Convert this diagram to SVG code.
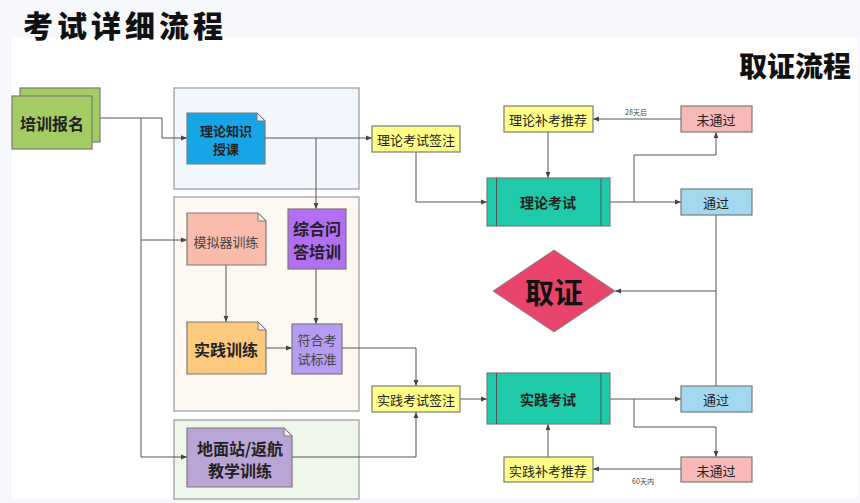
<svg xmlns="http://www.w3.org/2000/svg" width="860" height="503" viewBox="0 0 860 503">
<defs>
<marker id="ah" viewBox="0 0 10 10" refX="10" refY="5" markerWidth="6" markerHeight="6" orient="auto" markerUnits="userSpaceOnUse">
<path d="M0,1 L10,5 L0,9 Z" fill="#444"/>
</marker>
<style>
text{font-family:"Noto Sans CJK SC","Noto Sans",sans-serif;text-anchor:middle;dominant-baseline:central;fill:#222}
.b{font-weight:bold}
.box{stroke:#7a7a7a;stroke-width:1.2}
.panel{stroke:#9a9a9a;stroke-width:1.2}
.conn path{fill:none;stroke:#555;stroke-width:1}
.arr{marker-end:url(#ah)}
.fold{fill:#eeeeee;stroke:#7a7a7a;stroke-width:1}
</style>
</defs>
<rect x="0" y="0" width="860" height="503" fill="#f6f8fc"/>
<rect x="12" y="37" width="846" height="461" fill="#ffffff"/>
<text x="125" y="24" style="font-size:30px;font-weight:900;fill:#111;letter-spacing:4px">考试详细流程</text>
<text x="795" y="65" style="font-size:28px;font-weight:900;fill:#111">取证流程</text>

<g id="panel-theory"><rect x="174" y="88" width="185" height="101" fill="#f2f6fd" class="panel"/></g>
<g id="panel-practice"><rect x="174" y="197" width="185" height="214" fill="#fdf8f2" class="panel"/></g>
<g id="panel-ground"><rect x="174" y="420" width="185" height="79" fill="#eff6ec" class="panel"/></g>

<g class="conn">
<path class="arr" d="M100,118 H162 V138 H187"/>
<path class="arr" d="M141,118 V240 H187"/>
<path class="arr" d="M141,240 V457 H187"/>
<path class="arr" d="M265,138 H372"/>
<path class="arr" d="M316,138 V209"/>
<path class="arr" d="M226,265 V322"/>
<path class="arr" d="M316,269 V324"/>
<path class="arr" d="M266,348 H292"/>
<path class="arr" d="M342,348 H416 V386"/>
<path class="arr" d="M292,457 H416 V412"/>
<path class="arr" d="M416,152 V202 H487"/>
<path class="arr" d="M460,399 H487"/>
<path class="arr" d="M681,119 H593"/>
<path class="arr" d="M548,132 V178"/>
<path class="arr" d="M610,202 H681"/>
<path class="arr" d="M634,202 V155 H716 V132"/>
<path class="arr" d="M716,215 V291 H615"/>
<path d="M716,291 V386"/>
<path class="arr" d="M610,399 H681"/>
<path class="arr" d="M634,399 V427 H716 V457"/>
<path class="arr" d="M681,469 H593"/>
<path class="arr" d="M548,457 V424"/>
<text x="636" y="112" style="font-size:7px;fill:#444">28天后</text>
<text x="643" y="481" style="font-size:7px;fill:#444">60天内</text>
</g>

<g id="n-signup">
<rect x="20" y="88" width="80" height="54" fill="#a3cc62" class="box"/>
<rect x="12" y="96" width="80" height="53" fill="#a3cc62" class="box"/>
<text x="52" y="123" class="b" style="font-size:16px">培训报名</text>
</g>

<g id="n-theory-class">
<path d="M187,113 H257 L265,121 V164 H187 Z" fill="#16a5e6" class="box"/>
<path d="M257,113 L265,121 H257 Z" class="fold"/>
<text x="226" y="130" class="b" style="font-size:13px">理论知识</text>
<text x="226" y="148" class="b" style="font-size:13px">授课</text>
</g>

<g id="n-sim">
<path d="M187,213 H258 L266,221 V265 H187 Z" fill="#f9bcaa" class="box"/>
<path d="M258,213 L266,221 H258 Z" class="fold"/>
<text x="226" y="241" style="font-size:13px;fill:#444">模拟器训练</text>
</g>

<g id="n-qa">
<rect x="288" y="209" width="58" height="60" fill="#b26ff3" class="box"/>
<text x="317" y="228" class="b" style="font-size:16px">综合问</text>
<text x="317" y="251" class="b" style="font-size:16px">答培训</text>
</g>

<g id="n-practice">
<path d="M187,322 H258 L266,330 V374 H187 Z" fill="#fdc97c" class="box"/>
<path d="M258,322 L266,330 H258 Z" class="fold"/>
<text x="226" y="349" class="b" style="font-size:16px">实践训练</text>
</g>

<g id="n-standard">
<rect x="292" y="324" width="50" height="50" fill="#b79cf4" class="box"/>
<text x="317" y="339" style="font-size:13px;fill:#444">符合考</text>
<text x="317" y="358" style="font-size:13px;fill:#444">试标准</text>
</g>

<g id="n-ground">
<path d="M187,428 H284 L292,436 V487 H187 Z" fill="#bba5d6" class="box"/>
<path d="M284,428 L292,436 H284 Z" class="fold"/>
<text x="240" y="448" class="b" style="font-size:16px">地面站/返航</text>
<text x="240" y="470" class="b" style="font-size:16px">教学训练</text>
</g>

<g id="n-theory-sign">
<rect x="372" y="126" width="88" height="26" fill="#ffff88" class="box"/>
<text x="416" y="139" style="font-size:13px">理论考试签注</text>
</g>

<g id="n-practice-sign">
<rect x="372" y="386" width="88" height="26" fill="#ffff88" class="box"/>
<text x="416" y="399" style="font-size:13px">实践考试签注</text>
</g>

<g id="n-theory-exam">
<rect x="487" y="178" width="123" height="48" fill="#1ecaa9" class="box"/>
<path d="M496.5,178 V226 M601,178 V226" stroke="#555" stroke-width="1"/>
<text x="548" y="202" class="b" style="font-size:14px">理论考试</text>
</g>

<g id="n-practice-exam">
<rect x="487" y="373" width="123" height="51" fill="#1ecaa9" class="box"/>
<path d="M496.5,373 V424 M601,373 V424" stroke="#555" stroke-width="1"/>
<text x="548" y="399" class="b" style="font-size:14px">实践考试</text>
</g>

<g id="n-theory-retake">
<rect x="504" y="106" width="89" height="26" fill="#ffff88" class="box"/>
<text x="548" y="119" style="font-size:13px">理论补考推荐</text>
</g>

<g id="n-practice-retake">
<rect x="504" y="457" width="89" height="25" fill="#ffff88" class="box"/>
<text x="548" y="470" style="font-size:13px">实践补考推荐</text>
</g>

<g id="n-fail-1">
<rect x="681" y="106" width="71" height="26" fill="#f8b9b9" class="box"/>
<text x="716" y="119" style="font-size:13px">未通过</text>
</g>

<g id="n-pass-1">
<rect x="681" y="189" width="71" height="26" fill="#a3d8ef" class="box"/>
<text x="716" y="202" style="font-size:13px">通过</text>
</g>

<g id="n-pass-2">
<rect x="681" y="386" width="71" height="26" fill="#a3d8ef" class="box"/>
<text x="716" y="399" style="font-size:13px">通过</text>
</g>

<g id="n-fail-2">
<rect x="681" y="457" width="71" height="25" fill="#f8b9b9" class="box"/>
<text x="716" y="470" style="font-size:13px">未通过</text>
</g>

<g id="n-cert">
<path d="M493,291 L554,250 L615,291 L554,332 Z" fill="#e8436a" stroke="#888" stroke-width="1"/>
<text x="554" y="291" class="b" style="font-size:29px;fill:#111">取证</text>
</g>
</svg>
